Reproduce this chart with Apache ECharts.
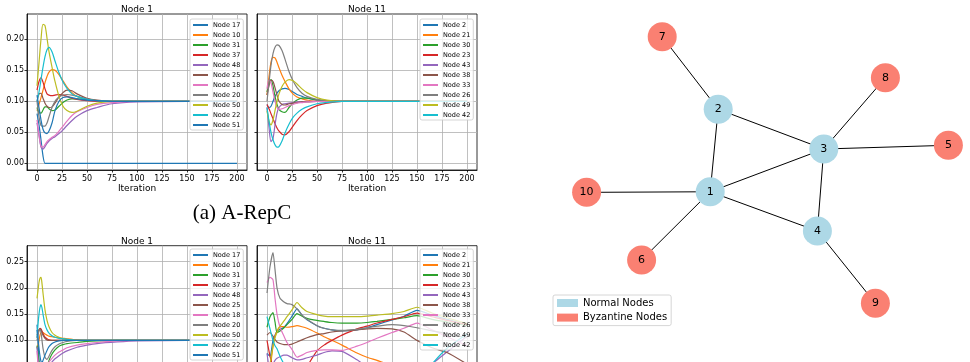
<!DOCTYPE html>
<html>
<head>
<meta charset="utf-8">
<script src="https://cdn.jsdelivr.net/npm/echarts@6/dist/echarts.min.js"></script>
<style>
html, body { margin: 0; padding: 0; background: #fff; }
#main { width: 970px; height: 362px; }
</style>
</head>
<body>
<div id="main"></div>
<script>
const tab10 = ['#1f77b4', '#ff7f0e', '#2ca02c', '#d62728', '#9467bd',
    '#8c564b', '#e377c2', '#7f7f7f', '#bcbd22', '#17becf'];

const xTicks = [0, 25, 50, 75, 100, 125, 150, 175, 200];
const yTicksTop = [0, 0.05, 0.10, 0.15, 0.20];
const yTicksBottom = [0, 0.05, 0.10, 0.15, 0.20, 0.25];

// (a) A-RepC, Node 1
const iterA = [0, 2, 4, 6, 8, 10, 12, 15, 18, 22, 26, 30, 35, 40, 50, 60, 75, 100, 150, 200];
const namesLeft = ['Node 17', 'Node 10', 'Node 31', 'Node 37', 'Node 48', 'Node 25',
    'Node 18', 'Node 20', 'Node 50', 'Node 22', 'Node 51'];
const a1Values = [
    [0.080, 0.062, 0.038, 0.012, 0, 0, 0, 0, 0, 0, 0, 0, 0, 0, 0, 0, 0, 0, 0, 0],
    [0.085, 0.095, 0.106, 0.118, 0.130, 0.140, 0.147, 0.151, 0.150, 0.143, 0.133, 0.123, 0.114, 0.108, 0.103, 0.101, 0.100, 0.100, 0.100, 0.100],
    [0.090, 0.082, 0.081, 0.086, 0.091, 0.091, 0.088, 0.085, 0.086, 0.092, 0.098, 0.102, 0.104, 0.104, 0.103, 0.101, 0.100, 0.100, 0.100, 0.100],
    [0.118, 0.132, 0.138, 0.131, 0.120, 0.112, 0.110, 0.109, 0.110, 0.111, 0.110, 0.108, 0.105, 0.103, 0.101, 0.100, 0.100, 0.100, 0.100, 0.100],
    [0.065, 0.045, 0.026, 0.023, 0.027, 0.032, 0.036, 0.040, 0.043, 0.048, 0.054, 0.061, 0.069, 0.076, 0.085, 0.090, 0.096, 0.099, 0.100, 0.100],
    [0.100, 0.112, 0.113, 0.105, 0.097, 0.092, 0.090, 0.091, 0.097, 0.107, 0.114, 0.118, 0.117, 0.112, 0.105, 0.102, 0.100, 0.100, 0.100, 0.100],
    [0.070, 0.046, 0.028, 0.026, 0.030, 0.035, 0.038, 0.042, 0.045, 0.052, 0.060, 0.068, 0.077, 0.083, 0.090, 0.095, 0.098, 0.100, 0.100, 0.100],
    [0.100, 0.075, 0.061, 0.060, 0.060, 0.065, 0.075, 0.090, 0.100, 0.107, 0.110, 0.111, 0.110, 0.108, 0.104, 0.101, 0.100, 0.100, 0.100, 0.100],
    [0.125, 0.162, 0.200, 0.224, 0.222, 0.202, 0.180, 0.155, 0.132, 0.108, 0.092, 0.085, 0.082, 0.084, 0.092, 0.097, 0.100, 0.100, 0.100, 0.100],
    [0.100, 0.115, 0.135, 0.155, 0.172, 0.183, 0.187, 0.180, 0.165, 0.146, 0.131, 0.121, 0.112, 0.108, 0.103, 0.101, 0.100, 0.100, 0.100, 0.100],
    [0.110, 0.090, 0.070, 0.055, 0.049, 0.048, 0.052, 0.065, 0.085, 0.100, 0.106, 0.107, 0.106, 0.104, 0.102, 0.101, 0.100, 0.100, 0.100, 0.100]
];

// (a) A-RepC, Node 11
const namesRight = ['Node 2', 'Node 21', 'Node 30', 'Node 23', 'Node 43', 'Node 38',
    'Node 33', 'Node 26', 'Node 49', 'Node 42'];
const a2Values = [
    [0.095, 0.090, 0.092, 0.100, 0.108, 0.113, 0.117, 0.120, 0.121, 0.119, 0.115, 0.111, 0.108, 0.105, 0.102, 0.101, 0.100, 0.100, 0.100, 0.100],
    [0.110, 0.140, 0.163, 0.171, 0.170, 0.163, 0.154, 0.142, 0.132, 0.120, 0.112, 0.107, 0.104, 0.102, 0.100, 0.100, 0.100, 0.100, 0.100, 0.100],
    [0.115, 0.130, 0.135, 0.125, 0.108, 0.095, 0.087, 0.083, 0.082, 0.090, 0.097, 0.102, 0.105, 0.105, 0.102, 0.101, 0.100, 0.100, 0.100, 0.100],
    [0.095, 0.088, 0.080, 0.072, 0.064, 0.057, 0.052, 0.047, 0.046, 0.051, 0.060, 0.069, 0.078, 0.085, 0.093, 0.097, 0.100, 0.100, 0.100, 0.100],
    [0.090, 0.058, 0.035, 0.040, 0.062, 0.081, 0.090, 0.095, 0.096, 0.097, 0.098, 0.099, 0.099, 0.100, 0.100, 0.100, 0.100, 0.100, 0.100, 0.100],
    [0.110, 0.125, 0.134, 0.132, 0.122, 0.110, 0.100, 0.095, 0.094, 0.096, 0.097, 0.098, 0.099, 0.099, 0.100, 0.100, 0.100, 0.100, 0.100, 0.100],
    [0.120, 0.134, 0.130, 0.115, 0.100, 0.090, 0.087, 0.088, 0.090, 0.093, 0.095, 0.097, 0.098, 0.099, 0.100, 0.100, 0.100, 0.100, 0.100, 0.100],
    [0.100, 0.130, 0.158, 0.177, 0.187, 0.191, 0.190, 0.182, 0.168, 0.148, 0.133, 0.122, 0.113, 0.108, 0.103, 0.101, 0.100, 0.100, 0.100, 0.100],
    [0.085, 0.068, 0.062, 0.070, 0.085, 0.100, 0.112, 0.124, 0.131, 0.135, 0.133, 0.128, 0.120, 0.114, 0.106, 0.102, 0.100, 0.100, 0.100, 0.100],
    [0.090, 0.068, 0.050, 0.038, 0.030, 0.026, 0.027, 0.036, 0.049, 0.063, 0.074, 0.081, 0.087, 0.091, 0.096, 0.098, 0.100, 0.100, 0.100, 0.100]
];

// second method, Node 1
const iterB1 = [0, 1, 2, 3, 4, 5, 6, 8, 10, 12, 15, 18, 22, 26, 30, 40, 50, 60, 80, 100, 150, 200];
const b1Values = [
    [0.130, 0.100, 0.060, 0.030, 0.010, 0, 0, 0, 0, 0, 0, 0, 0, 0, 0, 0, 0, 0, 0, 0, 0, 0],
    [0.085, 0.090, 0.100, 0.110, 0.115, 0.116, 0.115, 0.112, 0.110, 0.108, 0.107, 0.106, 0.105, 0.104, 0.103, 0.101, 0.100, 0.100, 0.100, 0.100, 0.100, 0.100],
    [0.090, 0.075, 0.060, 0.050, 0.045, 0.043, 0.043, 0.045, 0.050, 0.062, 0.074, 0.082, 0.089, 0.092, 0.094, 0.096, 0.098, 0.099, 0.100, 0.100, 0.100, 0.100],
    [0.110, 0.115, 0.120, 0.123, 0.122, 0.118, 0.113, 0.106, 0.103, 0.101, 0.100, 0.100, 0.100, 0.100, 0.100, 0.100, 0.100, 0.100, 0.100, 0.100, 0.100, 0.100],
    [0.088, 0.060, 0.040, 0.030, 0.025, 0.025, 0.027, 0.033, 0.042, 0.050, 0.059, 0.065, 0.071, 0.076, 0.080, 0.087, 0.091, 0.094, 0.097, 0.099, 0.100, 0.100],
    [0.105, 0.115, 0.120, 0.122, 0.120, 0.115, 0.110, 0.104, 0.101, 0.100, 0.100, 0.100, 0.100, 0.100, 0.100, 0.100, 0.100, 0.100, 0.100, 0.100, 0.100, 0.100],
    [0.080, 0.055, 0.040, 0.035, 0.034, 0.036, 0.040, 0.046, 0.053, 0.059, 0.066, 0.072, 0.078, 0.082, 0.086, 0.091, 0.094, 0.096, 0.099, 0.100, 0.100, 0.100],
    [0.100, 0.110, 0.118, 0.120, 0.115, 0.100, 0.085, 0.068, 0.064, 0.070, 0.081, 0.088, 0.093, 0.096, 0.098, 0.100, 0.100, 0.100, 0.100, 0.100, 0.100, 0.100],
    [0.180, 0.195, 0.210, 0.218, 0.220, 0.208, 0.190, 0.158, 0.138, 0.126, 0.115, 0.110, 0.106, 0.103, 0.102, 0.100, 0.100, 0.100, 0.100, 0.100, 0.100, 0.100],
    [0.105, 0.130, 0.150, 0.163, 0.168, 0.162, 0.150, 0.130, 0.120, 0.114, 0.109, 0.106, 0.104, 0.103, 0.102, 0.100, 0.100, 0.100, 0.100, 0.100, 0.100, 0.100],
    [0.120, 0.105, 0.085, 0.070, 0.060, 0.058, 0.062, 0.072, 0.081, 0.088, 0.094, 0.097, 0.099, 0.100, 0.100, 0.100, 0.100, 0.100, 0.100, 0.100, 0.100, 0.100]
];

// second method, Node 11
const iterB2 = [0, 3, 6, 8, 10, 13, 17, 20, 25, 30, 35, 40, 50, 57, 65, 75, 90, 100, 110, 125, 137, 150, 165, 180, 200];
const b2Values = [
    [0.075, 0.070, 0.100, 0.110, 0.117, 0.121, 0.125, 0.132, 0.146, 0.160, 0.148, 0.139, 0.128, 0.123, 0.120, 0.118, 0.120, 0.124, 0.130, 0.139, 0.146, 0.157, 0.148, 0.140, 0.130],
    [0.030, 0.045, 0.090, 0.108, 0.118, 0.126, 0.126, 0.125, 0.126, 0.128, 0.126, 0.123, 0.114, 0.107, 0.100, 0.091, 0.076, 0.068, 0.062, 0.052, 0.045, 0.038, 0.030, 0.022, 0.012],
    [0.125, 0.145, 0.153, 0.135, 0.115, 0.118, 0.124, 0.130, 0.140, 0.151, 0.146, 0.142, 0.138, 0.136, 0.134, 0.133, 0.133, 0.134, 0.136, 0.140, 0.143, 0.147, 0.140, 0.135, 0.128],
    [0.100, 0.070, 0.048, 0.035, 0.025, 0.015, 0.008, 0.005, 0.008, 0.018, 0.032, 0.050, 0.080, 0.091, 0.100, 0.110, 0.122, 0.127, 0.133, 0.140, 0.145, 0.152, 0.145, 0.138, 0.130],
    [0.075, 0.045, 0.055, 0.062, 0.066, 0.069, 0.072, 0.072, 0.067, 0.063, 0.064, 0.067, 0.072, 0.077, 0.080, 0.079, 0.063, 0.050, 0.040, 0.030, 0.025, 0.025, 0.055, 0.078, 0.108],
    [0.110, 0.115, 0.108, 0.102, 0.097, 0.094, 0.092, 0.092, 0.093, 0.097, 0.101, 0.105, 0.111, 0.113, 0.116, 0.118, 0.120, 0.122, 0.123, 0.122, 0.116, 0.100, 0.086, 0.077, 0.055],
    [0.210, 0.220, 0.215, 0.180, 0.150, 0.125, 0.108, 0.096, 0.083, 0.068, 0.072, 0.077, 0.081, 0.082, 0.082, 0.081, 0.089, 0.096, 0.104, 0.115, 0.123, 0.133, 0.120, 0.107, 0.090],
    [0.190, 0.240, 0.267, 0.235, 0.200, 0.180, 0.173, 0.170, 0.168, 0.160, 0.148, 0.140, 0.128, 0.123, 0.120, 0.119, 0.121, 0.124, 0.127, 0.130, 0.128, 0.124, 0.118, 0.113, 0.105],
    [0.030, 0.055, 0.088, 0.105, 0.115, 0.127, 0.137, 0.145, 0.158, 0.172, 0.162, 0.155, 0.149, 0.146, 0.145, 0.145, 0.145, 0.146, 0.148, 0.151, 0.155, 0.163, 0.152, 0.143, 0.132],
    [0.145, 0.122, 0.100, 0.090, 0.084, 0.070, 0.055, 0.047, 0.040, 0.035, 0.032, 0.030, 0.026, 0.024, 0.022, 0.020, 0.018, 0.017, 0.016, 0.015, 0.015, 0.020, 0.055, 0.085, 0.112]
];

// network: layout positions, 0 = normal, 1 = byzantine
const nodeNames = ['1', '2', '3', '4', '5', '6', '7', '8', '9', '10'];
const nodeX = [-0.249, -0.209, 0.319, 0.287, 0.942, -0.592, -0.489, 0.627, 0.577, -0.867];
const nodeY = [-0.145, 0.405, 0.140, -0.407, 0.165, -0.600, 0.889, 0.615, -0.889, -0.149];
const nodeKind = [0, 0, 0, 0, 1, 1, 1, 1, 1, 1];
const edges = [['1', '2'], ['1', '3'], ['1', '4'], ['2', '3'], ['3', '4'], ['2', '7'],
    ['3', '8'], ['3', '5'], ['1', '10'], ['1', '6'], ['4', '9']];

var chartDom = document.getElementById('main');
var myChart = echarts.init(chartDom);

const panels = [
    { iter: iterA, names: namesLeft, values: a1Values, title: 'Node 1', top: 14, height: 156, left: 27, legendTop: 19, ymin: -0.0108, ymax: 0.2408, yTicks: yTicksTop, xLabels: true, yLabels: true, smooth: 0.3 },
    { iter: iterA, names: namesRight, values: a2Values, title: 'Node 11', top: 14, height: 156, left: 257, legendTop: 19, ymin: -0.0108, ymax: 0.2408, yTicks: yTicksTop, xLabels: true, yLabels: false, smooth: 0.3 },
    { iter: iterB1, names: namesLeft, values: b1Values, title: 'Node 1', top: 245.7, height: 147.3, left: 27, legendTop: 249, ymin: 0, ymax: 0.28, yTicks: yTicksBottom, xLabels: false, yLabels: true, smooth: 0.25 },
    { iter: iterB2, names: namesRight, values: b2Values, title: 'Node 11', top: 245.7, height: 147.3, left: 257, legendTop: 249, ymin: 0, ymax: 0.28, yTicks: yTicksBottom, xLabels: false, yLabels: false, smooth: 0.2 }
];

const blackLine = { color: '#000', width: 0.8 };
const grids = [], xAxes = [], yAxes = [], series = [], legends = [], graphics = [];

panels.forEach(function(p, i) {
    grids.push({ left: p.left, top: p.top, width: 220, height: p.height, show: true,
        outerBoundsMode: 'none', containLabel: false,
        borderColor: '#000', borderWidth: 0.8, backgroundColor: 'transparent' });
    xAxes.push({
        gridIndex: i, type: 'value', min: -10, max: 210,
        name: p.xLabels ? 'Iteration' : '', nameLocation: 'middle', nameGap: 14,
        nameTextStyle: { fontSize: 9, color: '#000' },
        axisLine: { show: true, onZero: false, lineStyle: blackLine },
        axisTick: { show: true, length: 2.5, customValues: xTicks, lineStyle: blackLine },
        axisLabel: { show: p.xLabels, customValues: xTicks, fontSize: 8, color: '#000', margin: 5 },
        splitLine: { show: true, lineStyle: { color: '#b0b0b0', width: 0.8 } }
    });
    yAxes.push({
        gridIndex: i, type: 'value', min: p.ymin, max: p.ymax,
        axisLine: { show: true, onZero: false, lineStyle: blackLine },
        axisTick: { show: true, length: 2.5, customValues: p.yTicks, lineStyle: blackLine },
        axisLabel: { show: p.yLabels, customValues: p.yTicks, fontSize: 8, color: '#000', margin: 3,
            formatter: function(v) { return v.toFixed(2); } },
        splitLine: { show: true, lineStyle: { color: '#b0b0b0', width: 0.8 } }
    });
    p.names.forEach(function(name, k) {
        const c = tab10[k % 10];
        series.push({
            name: name, type: 'line', xAxisIndex: i, yAxisIndex: i,
            data: p.iter.map(function(x, j) { return [x, p.values[k][j]]; }),
            showSymbol: false, symbol: 'none', smooth: p.smooth,
            lineStyle: { width: 1.2, color: c }, itemStyle: { color: c },
            emphasis: { disabled: true }
        });
    });
    legends.push({
        data: p.names, orient: 'vertical', icon: 'rect',
        left: i % 2 === 0 ? 190 : 420, top: p.legendTop, height: 115,
        itemWidth: 15, itemHeight: 2, itemGap: 2, padding: [2, 3, 1, 3],
        backgroundColor: 'rgba(255,255,255,0.8)', borderColor: '#cccccc', borderWidth: 0.8, borderRadius: 2,
        textStyle: { fontSize: 6.5, lineHeight: 8, color: '#000' }, selectedMode: false
    });
    graphics.push({ type: 'text', x: p.left + 110, y: p.top - 4,
        style: { text: p.title, fontSize: 9, fontFamily: 'DejaVu Sans', fill: '#000', align: 'center', verticalAlign: 'middle' } });
});

// network panel
grids.push({ left: 560, top: 20, width: 400, height: 300, show: false, outerBoundsMode: 'none' });
xAxes.push({ gridIndex: 4, type: 'value', min: -1, max: 1, show: false });
yAxes.push({ gridIndex: 4, type: 'value', min: -1, max: 1, show: false });
series.push({
    name: 'network', type: 'graph', coordinateSystem: 'cartesian2d', xAxisIndex: 4, yAxisIndex: 4,
    symbolSize: 29,
    categories: [
        { name: 'Normal Nodes', itemStyle: { color: '#add8e6' } },
        { name: 'Byzantine Nodes', itemStyle: { color: '#fa8072' } }
    ],
    data: nodeNames.map(function(n, i) {
        return { name: n, value: [nodeX[i], nodeY[i]], category: nodeKind[i] };
    }),
    links: edges.map(function(e) { return { source: e[0], target: e[1] }; }),
    lineStyle: { color: '#000', width: 1, opacity: 1, curveness: 0 },
    label: { show: true, position: 'inside', color: '#000', fontSize: 11, fontFamily: 'DejaVu Sans' },
    emphasis: { disabled: true }
});
legends.push({
    data: ['Normal Nodes', 'Byzantine Nodes'], orient: 'vertical', icon: 'rect',
    left: 553, top: 295, itemWidth: 21, itemHeight: 8, itemGap: 2.6, padding: [2, 4, 2, 4],
    backgroundColor: 'rgba(255,255,255,0.8)', borderColor: '#cccccc', borderWidth: 0.8, borderRadius: 2,
    textStyle: { fontSize: 10, lineHeight: 12, color: '#000' }, selectedMode: false
});

graphics.push({ type: 'text', x: 242, y: 213,
    style: { text: '(a) A-RepC', fontSize: 21, fontFamily: 'Liberation Serif', fill: '#000', align: 'center', verticalAlign: 'middle' } });

option = {
    animation: false,
    color: tab10,
    textStyle: { fontFamily: 'DejaVu Sans' },
    grid: grids,
    xAxis: xAxes,
    yAxis: yAxes,
    legend: legends,
    graphic: graphics,
    series: series
};

myChart.setOption(option);
</script>
</body>
</html>
